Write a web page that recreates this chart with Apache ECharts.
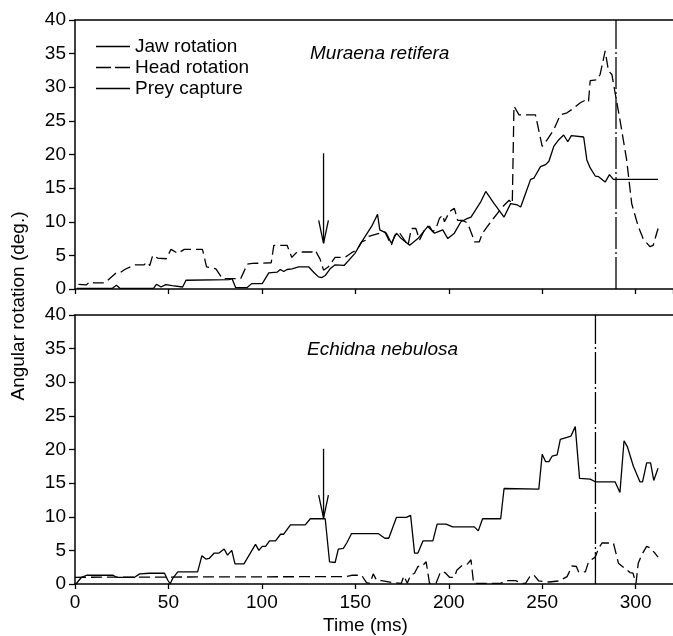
<!DOCTYPE html>
<html>
<head>
<meta charset="utf-8">
<title>Angular rotation</title>
<script src="https://cdn.jsdelivr.net/npm/echarts@6/dist/echarts.min.js"></script>
<style>
  html, body { margin: 0; padding: 0; background: #fff; }
  #chart { width: 673px; height: 636px; }
</style>
</head>
<body>
<div id="chart"></div>
<script>
// [time (ms), angle (deg.)]
const muraenaJaw = [[1,0.1],[20,0.1],[22.2,0.55],[24,0.1],[42,0.1],[43.6,0.7],[46,0.3],[48.6,0.65],[52,0.5],[57.6,0.3],[59.4,1.3],[82.4,1.4],[84,1.55],[86,0.2],[92,0.2],[94.5,0.8],[100.2,0.8],[103.7,2.4],[108.1,2.5],[109.9,2.9],[111.7,2.6],[113.5,2.9],[116.1,3.0],[119.7,3.3],[125,3.3],[127.7,2.5],[130.3,1.8],[132,1.7],[133.9,2.0],[136.5,3.0],[139.2,3.6],[144,3.5],[149.8,5.3],[153.4,7.0],[155.2,7.8],[158.7,9.3],[161.9,11.1],[163.1,8.8],[166.6,8.3],[169.3,6.8],[172,8.3],[174.6,7.5],[179.1,6.5],[183.5,7.5],[188.8,9.3],[192.4,8.3],[196.8,8.8],[199.5,7.5],[203,8.3],[206.5,10.0],[210.1,10.5],[211.9,10.7],[217.2,13.0],[219.8,14.5],[224.3,12.7],[229.6,10.7],[233.1,12.7],[236.7,12.5],[238.5,12.2],[241.1,14.2],[243.8,16.3],[245.6,16.5],[249.1,18.2],[251.8,18.5],[253.6,19.0],[256.2,21.2],[258.9,22.2],[261.5,22.9],[263.7,21.9],[265.6,22.8],[272.2,22.6],[273.9,19.2],[275.7,18.0],[278.4,16.8],[280.2,16.7],[283.7,15.9],[286,17.0],[288.1,16.3],[312,16.3]]
const muraenaHead = [[1.8,0.7],[6,0.6],[8,1.1],[10,0.9],[16,0.9],[22,2.4],[24,2.4],[26.6,2.9],[32,3.6],[37,3.6],[38.5,4.0],[40,3.5],[41.6,5.0],[44.3,4.6],[48.8,4.5],[51.4,5.9],[55,5.3],[58.5,5.9],[68.2,5.9],[70.4,3.3],[75.4,3.0],[78.9,1.55],[88.7,1.55],[92.2,3.7],[94.8,3.8],[105,3.9],[106.4,6.5],[113.5,6.5],[116,4.7],[118.8,5.5],[126.8,5.5],[128.5,5.8],[131.2,4.4],[133,2.8],[135.6,3.3],[139.2,4.7],[144.5,4.7],[148,5.4],[150.7,5.8],[153.4,7.0],[156,7.3],[157,7.8],[165.8,8.5],[169.3,6.5],[171.1,8.0],[173.8,8.3],[178.2,6.5],[180,9.0],[182.4,9.0],[184.4,7.3],[187.9,9.3],[189.7,9.3],[191.5,8.5],[193.2,9.0],[195,10.5],[196.8,11.0],[197.7,10.0],[200.4,11.5],[203,12.0],[204.8,10.2],[207.4,10.2],[210.1,9.8],[212.8,7.8],[213.7,7.0],[216.3,7.0],[218.1,8.3],[220.7,9.3],[223.4,10.3],[228.7,12.2],[232.3,13.2],[234,12.7],[234.9,27.2],[237.6,25.9],[246.4,25.9],[250,21.2],[252.7,22.2],[256.2,23.7],[259.7,25.9],[263.3,26.2],[266.9,26.9],[270.4,27.7],[273.9,28.2],[274.8,27.9],[275.7,31.0],[279.3,31.1],[281,31.9],[283.7,35.4],[285.5,32.4],[287.3,31.9],[289,29.2],[291.6,25.2],[295.2,19.2],[297.9,12.7],[301.4,9.3],[304,7.5],[307.6,6.3],[309.4,6.5],[312,9.0]]
const muraenaCapture = [[289.5,0],[289.5,40]]
const muraenaArrow = [[133,20.2],[133,6.8]]
const muraenaArrowHead = [[130.4,10.2],[133,6.8],[135.6,10.2]]

const echidnaJaw = [[0.5,0],[3.5,1.0],[6.2,1.3],[20.4,1.3],[22.2,1.0],[31.9,1.0],[34.6,1.5],[39.9,1.6],[47.9,1.6],[49.6,0.6],[50.9,0],[52.3,0.85],[55,1.8],[65.6,1.8],[67.9,4.2],[70,3.7],[71.8,3.8],[74.5,4.6],[77.1,4.6],[79.8,5.2],[81.6,4.3],[83.9,5.0],[85.6,3.0],[90.4,3.0],[96.6,5.9],[98.4,5.0],[100.2,5.6],[102,5.6],[104.1,6.4],[107.3,6.4],[110,7.4],[111.7,7.4],[115.3,8.8],[123.2,8.8],[125.9,9.7],[133.9,9.7],[136.2,3.3],[139.2,3.2],[140.9,5.2],[143.6,5.3],[145.4,6.1],[148,7.5],[162.2,7.5],[165.8,6.8],[167.9,6.8],[172,9.9],[177.3,9.9],[179.6,10.2],[181.7,4.6],[183.5,4.6],[186.2,6.4],[191.5,6.4],[193.8,8.9],[198.6,8.9],[202.1,8.5],[213.7,8.5],[215.8,7.9],[218.1,9.7],[227.8,9.7],[229.6,14.2],[248.2,14.1],[250,19.3],[251.8,18.2],[253.6,18.2],[255.3,19.0],[258,19.2],[259.7,21.5],[263.3,21.8],[265.4,22.0],[267.7,23.4],[270,15.7],[275.7,15.6],[278.4,15.2],[289,15.2],[291.6,13.6],[293.8,21.3],[295.6,20.4],[298.8,17.5],[302.3,15.2],[303.7,15.2],[305.9,18.0],[308,18.0],[309.7,15.4],[312,17.2]]
const echidnaHead = [[0,1.0],[145,1.1],[148,1.3],[153.4,1.3],[156,0.2],[157.8,0.1],[159.6,1.5],[161.3,0.6],[164,0.5],[170.2,0.2],[174.6,0.1],[176,1.2],[177.8,0.1],[179.6,1.3],[181.7,1.6],[183.5,2.6],[185.6,2.6],[187.9,3.3],[189.7,0.1],[193.2,0.1],[195.6,1.8],[198,1.7],[200.4,1.0],[203,1.0],[204.4,2.1],[207.4,2.8],[210.1,3.0],[211.9,3.6],[213.3,0.1],[219.8,0.1],[227.8,0.1],[230.5,0.5],[235.8,0.5],[239.4,0.1],[241.1,0.1],[243.8,1.3],[245.6,1.3],[248.2,0.45],[253.6,0.3],[258.9,0.45],[263.3,1.1],[266,2.7],[268.3,2.6],[269.5,1.8],[273.1,1.8],[274.8,3.3],[278.4,4.0],[280.2,5.3],[282,6.1],[288.1,6.1],[290.8,3.1],[294.3,2.3],[297,1.7],[298.6,1.6],[300.2,0.1],[301.4,3.1],[303.2,4.3],[305.9,5.6],[307.6,5.4],[310.3,4.6],[312,4.0]]
const echidnaCapture = [[278.5,0],[278.5,40]]
const echidnaArrow = [[133,20.1],[133,9.8]]
const echidnaArrowHead = [[130.4,13.2],[133,9.8],[135.6,13.2]]

const yTicks = { min: 0, max: 40, interval: 5 }
const xTicks = { min: 0, max: 320, interval: 50 }

const FONT = "'Liberation Sans', Arial, Helvetica, sans-serif"
const FONT_SIZE = 19
const DASH = [11, 5]
const DASH_DOT = [32, 3, 2, 3]

let myChart = null

function lineSeries(name, data, gridIdx, type) {
  return {
    name: name,
    type: 'line',
    xAxisIndex: gridIdx * 2,
    yAxisIndex: gridIdx,
    data: data,
    showSymbol: false,
    symbol: 'none',
    silent: true,
    lineStyle: { color: '#000', width: 1.3, type: type || 'solid' },
    z: 3
  }
}

function xAxisPair(gridIdx, withLabels) {
  return [
    {
      type: 'value',
      gridIndex: gridIdx,
      position: 'bottom',
      min: xTicks.min,
      max: xTicks.max,
      interval: xTicks.interval,
      name: withLabels ? 'Time (ms)' : '',
      nameLocation: 'middle',
      nameGap: 32,
      nameTextStyle: { fontFamily: FONT, fontSize: FONT_SIZE, color: '#000', padding: [0, 17, 0, 0] },
      axisLine: { show: true, onZero: false, lineStyle: { color: '#000', width: 1.5 } },
      axisTick: { show: true, inside: false, length: 5, lineStyle: { color: '#000', width: 1.3 } },
      axisLabel: {
        show: withLabels,
        margin: 9,
        showMaxLabel: false,
        fontFamily: FONT,
        fontSize: FONT_SIZE,
        color: '#000'
      },
      splitLine: { show: false }
    },
    {
      type: 'value',
      gridIndex: gridIdx,
      position: 'top',
      min: xTicks.min,
      max: xTicks.max,
      axisLine: { show: true, onZero: false, lineStyle: { color: '#000', width: 1.5 } },
      axisTick: { show: false },
      axisLabel: { show: false },
      splitLine: { show: false }
    }
  ]
}

function yAxis(gridIdx) {
  return {
    type: 'value',
    gridIndex: gridIdx,
    min: yTicks.min,
    max: yTicks.max,
    interval: yTicks.interval,
    axisLine: { show: true, onZero: false, lineStyle: { color: '#000', width: 1.5 } },
    axisTick: { show: true, inside: false, length: 6, lineStyle: { color: '#000', width: 1.3 } },
    axisLabel: { margin: 9, fontFamily: FONT, fontSize: FONT_SIZE, color: '#000' },
    splitLine: { show: false }
  }
}

function initChart(dom) {
  var chartDom = document.getElementById(dom)
  myChart = echarts.init(chartDom, null, { renderer: 'canvas' })
  const option = {
    backgroundColor: '#fff',
    animation: false,
    textStyle: { fontFamily: FONT },
    grid: [
      { left: 75, top: 20, right: -4, height: 269 },
      { left: 75, top: 315, right: -4, height: 269 }
    ],
    xAxis: [].concat(xAxisPair(0, false), xAxisPair(1, true)),
    yAxis: [yAxis(0), yAxis(1)],
    legend: {
      orient: 'vertical',
      left: 91,
      top: 32,
      itemWidth: 34,
      itemHeight: 14,
      itemGap: 2,
      selectedMode: false,
      symbolKeepAspect: true,
      textStyle: { fontFamily: FONT, fontSize: FONT_SIZE, color: '#000' },
      itemStyle: { color: '#000', borderWidth: 0 },
      data: [
        { name: 'Jaw rotation', icon: 'path://M0,0H34V1.4H0Z' },
        { name: 'Head rotation', icon: 'path://M0,0H15V1.4H0ZM19,0H34V1.4H19Z' },
        { name: 'Prey capture', icon: 'path://M0,0H34V1.4H0Z' }
      ]
    },
    graphic: [
      {
        type: 'text',
        left: 310,
        top: 44,
        style: { text: 'Muraena retifera', fontFamily: FONT, fontSize: FONT_SIZE, fontStyle: 'italic', fill: '#000' }
      },
      {
        type: 'text',
        left: 307,
        top: 340,
        style: { text: 'Echidna nebulosa', fontFamily: FONT, fontSize: FONT_SIZE, fontStyle: 'italic', fill: '#000' }
      },
      {
        type: 'text',
        x: 19,
        y: 306,
        rotation: Math.PI / 2,
        style: {
          text: 'Angular rotation (deg.)',
          fontFamily: FONT,
          fontSize: FONT_SIZE,
          fill: '#000',
          align: 'center',
          verticalAlign: 'middle'
        }
      }
    ],
    series: [
      lineSeries('Jaw rotation', muraenaJaw, 0),
      lineSeries('Head rotation', muraenaHead, 0, DASH),
      lineSeries('Prey capture', muraenaCapture, 0, DASH_DOT),
      lineSeries('arrow', muraenaArrow, 0),
      lineSeries('arrow', muraenaArrowHead, 0),
      lineSeries('Jaw rotation', echidnaJaw, 1),
      lineSeries('Head rotation', echidnaHead, 1, DASH),
      lineSeries('Prey capture', echidnaCapture, 1, DASH_DOT),
      lineSeries('arrow', echidnaArrow, 1),
      lineSeries('arrow', echidnaArrowHead, 1)
    ]
  }
  myChart.setOption(option)
}

initChart('chart')
</script>
</body>
</html>
